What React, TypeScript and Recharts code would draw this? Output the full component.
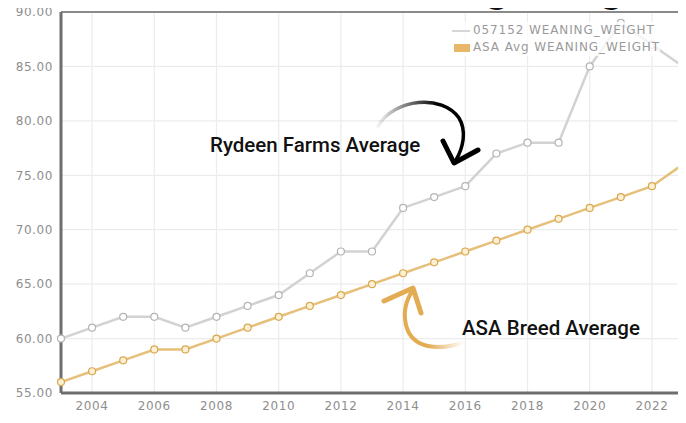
import React from 'react';
import {
  LineChart,
  Line,
  XAxis,
  YAxis,
  CartesianGrid,
  ReferenceLine,
} from 'recharts';

// data
const years = [2003, 2004, 2005, 2006, 2007, 2008, 2009, 2010, 2011, 2012, 2013, 2014, 2015, 2016, 2017, 2018, 2019, 2020, 2021, 2022, 2023];
const rydeenWeights = [60, 61, 62, 62, 61, 62, 63, 64, 66, 68, 68, 72, 73, 74, 77, 78, 78, 85, 89, 87, 85];
const asaWeights = [56, 57, 58, 59, 59, 60, 61, 62, 63, 64, 65, 66, 67, 68, 69, 70, 71, 72, 73, 74, 76];
const xTicks = [2004, 2006, 2008, 2010, 2012, 2014, 2016, 2018, 2020, 2022];
const yTicks = [55, 60, 65, 70, 75, 80, 85, 90];
const rydeenName = '057152 WEANING_WEIGHT';
const asaName = 'ASA Avg WEANING_WEIGHT';

const chartData = years.map((year, i) => ({
  year,
  rydeen: rydeenWeights[i],
  asa: asaWeights[i],
}));

const tickStyle = {
  fill: '#8e8e8e',
  fontSize: 12,
  fontFamily: 'DejaVu Sans, Verdana, sans-serif',
  letterSpacing: 0.6,
};

// legend sits over the plot, top right
const ChartLegend = () => (
  <div
    style={{
      position: 'absolute',
      top: 22,
      left: 452,
      fontFamily: 'DejaVu Sans, Verdana, sans-serif',
      fontSize: 12,
      color: '#9a9a9a',
      letterSpacing: 0.9,
      lineHeight: '17px',
      background: 'rgba(255,255,255,0.75)',
    }}
  >
    <div style={{ display: 'flex', alignItems: 'center' }}>
      <span style={{ width: 18, height: 2, background: '#d6d6d6', marginRight: 3, display: 'inline-block' }} />
      {rydeenName}
    </div>
    <div style={{ display: 'flex', alignItems: 'center' }}>
      <span style={{ width: 16, height: 8, background: '#e8b86a', marginRight: 3, marginLeft: 2, display: 'inline-block' }} />
      {asaName}
    </div>
  </div>
);

const App = () => {
  return (
    <div style={{ position: 'relative', width: 686, height: 423, margin: -8, background: '#fff', overflow: 'hidden' }}>
      <LineChart
        width={686}
        height={423}
        data={chartData}
        margin={{ top: 12, right: 3, left: 0, bottom: 0 }}
      >
        <CartesianGrid stroke="#ececec" strokeWidth={1.2} />
        <XAxis
          dataKey="year"
          type="number"
          domain={[2003, 2023]}
          ticks={xTicks}
          height={30}
          tick={tickStyle}
          tickLine={false}
          axisLine={{ stroke: '#6e6e6e', strokeWidth: 3 }}
        />
        <YAxis
          type="number"
          domain={[55, 90]}
          ticks={yTicks}
          width={61}
          tick={tickStyle}
          tickLine={false}
          tickFormatter={(v) => Number(v).toFixed(2)}
          axisLine={{ stroke: '#6e6e6e', strokeWidth: 3 }}
        />
        <ReferenceLine y={90} stroke="#8a8a8a" strokeWidth={2} />
        <ReferenceLine x={2023} stroke="#8a8a8a" strokeWidth={2} />
        <Line
          type="linear"
          dataKey="rydeen"
          name={rydeenName}
          stroke="#d2d2d2"
          strokeWidth={2.5}
          dot={{ r: 3.5, fill: '#ffffff', stroke: '#b4b4b4', strokeWidth: 1.2 }}
          isAnimationActive={false}
        />
        <Line
          type="linear"
          dataKey="asa"
          name={asaName}
          stroke="#e6c07a"
          strokeWidth={2.5}
          dot={{ r: 3.5, fill: '#fbefd4', stroke: '#d9a850', strokeWidth: 1.2 }}
          isAnimationActive={false}
        />
      </LineChart>

      <ChartLegend />

      {/* annotations drawn on top of the chart */}
      <svg width={686} height={423} style={{ position: 'absolute', left: 0, top: 0, pointerEvents: 'none' }}>
        <defs>
          <linearGradient id="blackArc" x1="0" y1="0" x2="1" y2="0">
            <stop offset="0%" stopColor="#000" stopOpacity={0.05} />
            <stop offset="70%" stopColor="#000" stopOpacity={1} />
          </linearGradient>
          <linearGradient id="goldArc" x1="1" y1="0" x2="0" y2="0">
            <stop offset="0%" stopColor="#e3ac52" stopOpacity={0.05} />
            <stop offset="60%" stopColor="#e3ac52" stopOpacity={1} />
          </linearGradient>
        </defs>
        {/* page heading, mostly cropped off the top in the reference */}
        <text x={666} y={1} textAnchor="end" fontSize={46} fontWeight={700} fontFamily="Roboto, sans-serif" fill="#111">
          Weaning Weight
        </text>
        <text x={210} y={152} fontSize={20.5} fontWeight={500} fontFamily="Roboto, sans-serif" fill="#111">
          Rydeen Farms Average
        </text>
        <text x={462} y={335} fontSize={20.5} fontWeight={500} fontFamily="Roboto, sans-serif" fill="#111">
          ASA Breed Average
        </text>
        <path d="M 378 126 C 395 98, 442 94, 459 118 C 467 131, 463 148, 456 160" fill="none" stroke="url(#blackArc)" strokeWidth={3.5} strokeLinecap="round" />
        <path d="M 443 141 L 454 163 L 478 150" fill="none" stroke="#000" strokeWidth={5} strokeLinecap="round" strokeLinejoin="round" />
        <path d="M 462 343 C 440 350, 412 350, 406 325 C 403 312, 406 300, 413 290" fill="none" stroke="url(#goldArc)" strokeWidth={4} strokeLinecap="round" />
        <path d="M 384 301 L 413 288 L 421 313" fill="none" stroke="#e3ac52" strokeWidth={5} strokeLinecap="round" strokeLinejoin="round" />
      </svg>
    </div>
  );
};

export default App;
